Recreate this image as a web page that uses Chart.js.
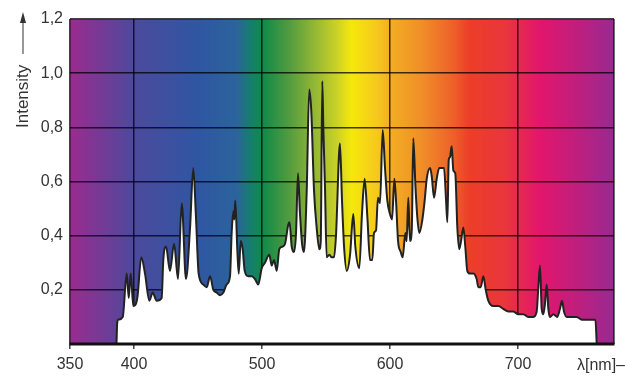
<!DOCTYPE html>
<html>
<head>
<meta charset="utf-8">
<script src="https://cdn.jsdelivr.net/npm/chart.js@4.4.1/dist/chart.umd.min.js"></script>
<style>
  html, body { margin: 0; padding: 0; background: #fff; }
  #wrap { width: 626px; height: 378px; }
</style>
</head>
<body>
<div id="wrap"><canvas id="spectrum"></canvas></div>
<script>
// Spectrum trace (wavelength in nm, relative intensity)
const wavelengths = [
  386.3, 386.9, 387.7, 391.2, 394.3, 395.9, 397.4, 399.5, 402.6, 405.7,
  408.6, 412.0, 414.6, 417.7, 421.6, 422.9, 425.0, 428.1, 431.3, 434.4,
  437.3, 440.6, 443.8, 446.3, 448.4, 450.5, 454.1, 456.8, 459.4, 462.0,
  464.6, 467.2, 469.8, 472.4, 475.0, 476.3, 477.6, 478.4, 479.1, 480.7,
  481.8, 483.4, 484.9, 486.5, 489.3, 492.0, 494.5, 497.1, 499.8, 502.3,
  505.7, 507.6, 509.4, 511.5, 513.5, 516.2, 518.0, 520.5, 521.5, 523.2,
  525.0, 526.6, 528.1, 529.7, 531.3, 532.8, 534.9, 536.9, 538.5, 540.6,
  542.7, 544.8, 545.9, 547.1, 547.9, 549.2, 550.5, 552.6, 554.4, 556.3,
  557.8, 560.9, 562.5, 564.1, 566.2, 568.8, 571.3, 572.9, 576.0, 578.1,
  580.2, 582.3, 584.4, 586.2, 587.5, 589.1, 590.6, 592.2, 594.3, 596.1,
  597.9, 600.0, 601.6, 603.4, 604.7, 606.3, 608.4, 609.9, 612.0, 613.0,
  614.3, 615.6, 617.0, 618.2, 619.8, 621.3, 622.9, 625.0, 627.1, 628.7,
  631.3, 632.6, 634.4, 636.5, 638.5, 640.4, 642.2, 643.8, 644.8, 645.9,
  646.9, 648.2, 649.5, 651.0, 652.6, 654.1, 655.5, 657.3, 658.8, 660.4,
  662.5, 665.1, 667.7, 669.0, 670.9, 672.9, 674.8, 676.8, 680.7, 684.6,
  688.5, 692.4, 696.3, 700.2, 704.1, 708.0, 712.0, 714.6, 715.9, 717.2,
  718.5, 719.8, 721.1, 722.4, 723.7, 725.0, 727.6, 730.7, 732.8, 734.4,
  735.9, 738.1, 742.0, 745.9, 749.8, 753.7, 757.6, 760.5, 761.5
];
const intensities = [
  0.00, 0.08, 0.09, 0.10, 0.26, 0.17, 0.26, 0.14, 0.17, 0.32,
  0.26, 0.16, 0.19, 0.16, 0.17, 0.31, 0.36, 0.27, 0.37, 0.24,
  0.52, 0.24, 0.43, 0.65, 0.47, 0.26, 0.22, 0.21, 0.25, 0.20,
  0.19, 0.18, 0.19, 0.22, 0.25, 0.41, 0.49, 0.46, 0.53, 0.35,
  0.26, 0.38, 0.35, 0.27, 0.25, 0.25, 0.24, 0.22, 0.28, 0.30,
  0.33, 0.29, 0.31, 0.27, 0.35, 0.36, 0.37, 0.44, 0.45, 0.36,
  0.34, 0.41, 0.63, 0.48, 0.37, 0.34, 0.56, 0.94, 0.86, 0.57,
  0.43, 0.35, 0.38, 0.97, 0.80, 0.58, 0.32, 0.33, 0.32, 0.32,
  0.40, 0.74, 0.53, 0.36, 0.27, 0.33, 0.48, 0.36, 0.28, 0.48,
  0.61, 0.47, 0.31, 0.31, 0.41, 0.42, 0.54, 0.52, 0.79, 0.65,
  0.53, 0.48, 0.46, 0.61, 0.53, 0.38, 0.34, 0.32, 0.41, 0.38,
  0.54, 0.38, 0.42, 0.76, 0.59, 0.47, 0.41, 0.45, 0.53, 0.61,
  0.65, 0.62, 0.54, 0.61, 0.65, 0.65, 0.65, 0.53, 0.45, 0.68,
  0.69, 0.73, 0.64, 0.63, 0.43, 0.35, 0.38, 0.43, 0.36, 0.27,
  0.26, 0.26, 0.24, 0.21, 0.21, 0.25, 0.20, 0.16, 0.14, 0.14,
  0.13, 0.12, 0.12, 0.11, 0.11, 0.10, 0.10, 0.12, 0.21, 0.29,
  0.13, 0.11, 0.15, 0.22, 0.13, 0.10, 0.11, 0.10, 0.13, 0.16,
  0.12, 0.10, 0.10, 0.10, 0.09, 0.09, 0.09, 0.09, 0.00
];

// Axis ticks
const xTicks = [350, 400, 500, 600, 700];
const yTicks = [0, 0.2, 0.4, 0.6, 0.8, 1.0, 1.2];

// Background colour of the visible spectrum, by wavelength
const bandNm = [350, 400, 450, 480, 492, 500, 520, 540, 560, 570, 590, 600, 625, 650, 662, 690, 717, 745, 775];
const bandColors = [
  '#9b2b8f', '#4c4a9c', '#2f56a2', '#2c639c', '#15806a', '#0e8a4a', '#4e9a40', '#90b535',
  '#d0d425', '#f5e80a', '#f6c81e', '#f3ae22', '#f08e28', '#ee5f2a', '#ec3e28', '#e8363c',
  '#e2166c', '#c11e7d', '#982a90'
];

const FONT = "'Liberation Sans', Arial, sans-serif";

const spectrumBackground = {
  id: 'spectrumBackground',
  beforeDraw(chart) {
    const { ctx, chartArea: a, scales: { x } } = chart;
    const grad = ctx.createLinearGradient(a.left, 0, a.right, 0);
    bandNm.forEach((nm, i) => {
      const t = (x.getPixelForValue(nm) - a.left) / (a.right - a.left);
      grad.addColorStop(Math.min(1, Math.max(0, t)), bandColors[i]);
    });
    ctx.save();
    ctx.fillStyle = grad;
    ctx.fillRect(a.left, a.top, a.right - a.left, a.bottom - a.top);
    ctx.restore();
  },
  afterDatasetsDraw(chart) {
    const { ctx, chartArea: a } = chart;
    ctx.save();
    // right frame line
    ctx.strokeStyle = 'rgba(0,0,0,0.75)';
    ctx.lineWidth = 1.5;
    ctx.beginPath();
    ctx.moveTo(a.right, a.top);
    ctx.lineTo(a.right, a.bottom);
    ctx.stroke();
    // thick base line
    ctx.strokeStyle = '#111';
    ctx.lineWidth = 3;
    ctx.beginPath();
    ctx.moveTo(a.left - 0.5, a.bottom);
    ctx.lineTo(a.right + 0.5, a.bottom);
    ctx.stroke();
    ctx.restore();
  },
  afterDraw(chart) {
    const { ctx } = chart;
    ctx.save();
    ctx.fillStyle = '#333';
    ctx.strokeStyle = '#333';
    ctx.font = '16px ' + FONT;
    // x axis unit
    ctx.textAlign = 'right';
    ctx.textBaseline = 'middle';
    ctx.fillText('λ[nm]–', 625, 366);
    // y axis title with arrow
    ctx.font = '17px ' + FONT;
    ctx.translate(23, 128);
    ctx.rotate(-Math.PI / 2);
    ctx.textAlign = 'left';
    ctx.fillText('Intensity', 0, 0);
    ctx.lineWidth = 1;
    ctx.beginPath();
    ctx.moveTo(74, 0);
    ctx.lineTo(110, 0);
    ctx.stroke();
    ctx.beginPath();
    ctx.moveTo(116, 0);
    ctx.lineTo(105, -3);
    ctx.lineTo(105, 3);
    ctx.closePath();
    ctx.fill();
    ctx.restore();
  }
};

const points = wavelengths.map((nm, i) => ({ x: nm, y: intensities[i] }));

new Chart(document.getElementById('spectrum'), {
  type: 'line',
  data: {
    datasets: [{
      data: points,
      borderColor: '#222',
      borderWidth: 2,
      backgroundColor: '#ffffff',
      fill: 'origin',
      pointRadius: 0,
      cubicInterpolationMode: 'monotone'
    }]
  },
  options: {
    responsive: true,
    maintainAspectRatio: false,
    animation: false,
    layout: { padding: { top: 19, right: 12, left: 0, bottom: 0 } },
    plugins: {
      legend: { display: false },
      tooltip: { enabled: false }
    },
    scales: {
      x: {
        type: 'linear',
        min: 350,
        max: 775,
        afterBuildTicks: (scale) => { scale.ticks = xTicks.map(v => ({ value: v })); },
        afterFit: (scale) => { scale.height = 34; },
        grid: { color: 'rgba(0,0,0,0.75)', lineWidth: 1.5, tickLength: 5, tickColor: '#444' },
        border: { display: false },
        ticks: {
          padding: 6,
          maxRotation: 0,
          color: '#333',
          font: { family: FONT, size: 16 },
          callback: (v) => String(v)
        }
      },
      y: {
        min: 0,
        max: 1.2,
        afterBuildTicks: (scale) => { scale.ticks = yTicks.map(v => ({ value: v })); },
        afterFit: (scale) => { scale.width = 70; },
        grid: { color: 'rgba(0,0,0,0.75)', lineWidth: 1.5, drawTicks: false },
        border: { display: false },
        ticks: {
          padding: 7,
          color: '#333',
          font: { family: FONT, size: 16 },
          callback: (v) => v === 0 ? '' : v.toFixed(1).replace('.', ',')
        }
      }
    }
  },
  plugins: [spectrumBackground]
});
</script>
</body>
</html>
